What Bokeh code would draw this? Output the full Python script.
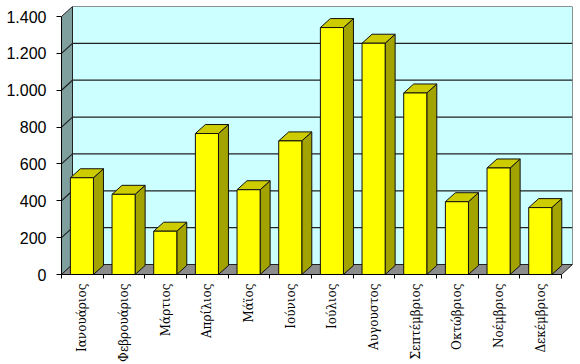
from bokeh.plotting import figure
from bokeh.models import FixedTicker, Range1d
from bokeh.embed import file_html
from bokeh.resources import INLINE

months = ["Ιανουάριος", "Φεβρουάριος", "Μάρτιος", "Απρίλιος", "Μάϊος", "Ιούνιος",
          "Ιούλιος", "Αυγουστος", "Σεπτέμβριος", "Οκτώβριος", "Νοέμβριος", "Δεκέμβριος"]
values = [525, 435, 235, 765, 460, 725, 1340, 1255, 985, 395, 578, 363]
y_ticks = [0, 200, 400, 600, 800, 1000, 1200, 1400]
y_tick_labels = ["0", "200", "400", "600", "800", "1.000", "1.200", "1.400"]

n = len(months)
ymax = y_ticks[-1]

# geometry (pixel based depth converted to data units)
px_x = 500 / n                # px per category
px_y = 258 / ymax             # px per value unit
frame_w, frame_h = 511, 268
dx = 11 / px_x
dy = 10 / px_y
bdx = 10 / px_x
bdy = 9 / px_y
hw = 0.277

p = figure(width=580, height=364, output_backend="svg", toolbar_location=None,
           x_range=Range1d(0, frame_w / px_x), y_range=Range1d(0, frame_h / px_y),
           min_border_left=61, min_border_right=8, min_border_top=6, min_border_bottom=90)
p.outline_line_color = None
p.xgrid.visible = False
p.ygrid.visible = False
p.background_fill_color = "white"
p.border_fill_color = "white"

# side wall
p.patch([0, 0, dx, dx], [0, ymax, ymax + dy, dy], fill_color="#7f9f9f",
        line_color="#222222", line_width=1)
# back wall
p.patch([dx, n + dx, n + dx, dx], [dy, dy, ymax + dy, ymax + dy], fill_color="#ccffff",
        line_color="#222222", line_width=1)
# floor
p.patch([0, n, n + dx, dx], [0, 0, dy, dy], fill_color="#8c8c8c",
        line_color="#222222", line_width=1)

# gridlines
for t in y_ticks[1:-1]:
    p.line([0, dx, n + dx], [t, t + dy, t + dy], line_color="#222222", line_width=1.2)

# bars
fx, fy, sx, sy, tx, ty = [], [], [], [], [], []
for i, v in enumerate(values):
    c = i + 0.49
    l, r = c - hw, c + hw
    fx.append([l, r, r, l]); fy.append([0, 0, v, v])
    sx.append([r, r, r + bdx, r + bdx]); sy.append([0, v, v + bdy, bdy])
    tx.append([l, r, r + bdx, l + bdx]); ty.append([v, v, v + bdy, v + bdy])

p.patches(sx, sy, fill_color="#a3a300", line_color="#111111", line_width=1)
p.patches(tx, ty, fill_color="#cccc00", line_color="#111111", line_width=1)
p.patches(fx, fy, fill_color="#ffff00", line_color="#111111", line_width=1)

# x axis
xa = p.xaxis[0]
xa.ticker = FixedTicker(ticks=[i + 0.5 for i in range(n)], minor_ticks=list(range(n + 1)))
xa.major_label_overrides = {i + 0.5: m for i, m in enumerate(months)}
xa.major_label_orientation = 3.14159265 / 2
xa.major_label_text_font = "DejaVu Serif"
xa.major_label_text_font_size = "12px"
xa.major_label_text_color = "black"
xa.major_tick_line_color = None
xa.major_tick_out = 0
xa.major_tick_in = 0
xa.minor_tick_out = 4
xa.minor_tick_in = 0
xa.minor_tick_line_color = "black"
xa.axis_line_color = "black"
xa.bounds = (0, n)
xa.major_label_standoff = 5

# y axis
ya = p.yaxis[0]
ya.ticker = FixedTicker(ticks=y_ticks, minor_ticks=[])
ya.major_label_overrides = {t: s for t, s in zip(y_ticks, y_tick_labels)}
ya.major_label_text_font = "Liberation Sans"
ya.major_label_text_font_size = "16px"
ya.major_label_text_color = "black"
ya.major_tick_out = 5
ya.major_tick_in = 0
ya.major_tick_line_color = "black"
ya.axis_line_color = "black"
ya.bounds = (0, ymax)
ya.major_label_standoff = 10

open("out.html", "w").write(file_html(p, INLINE))
